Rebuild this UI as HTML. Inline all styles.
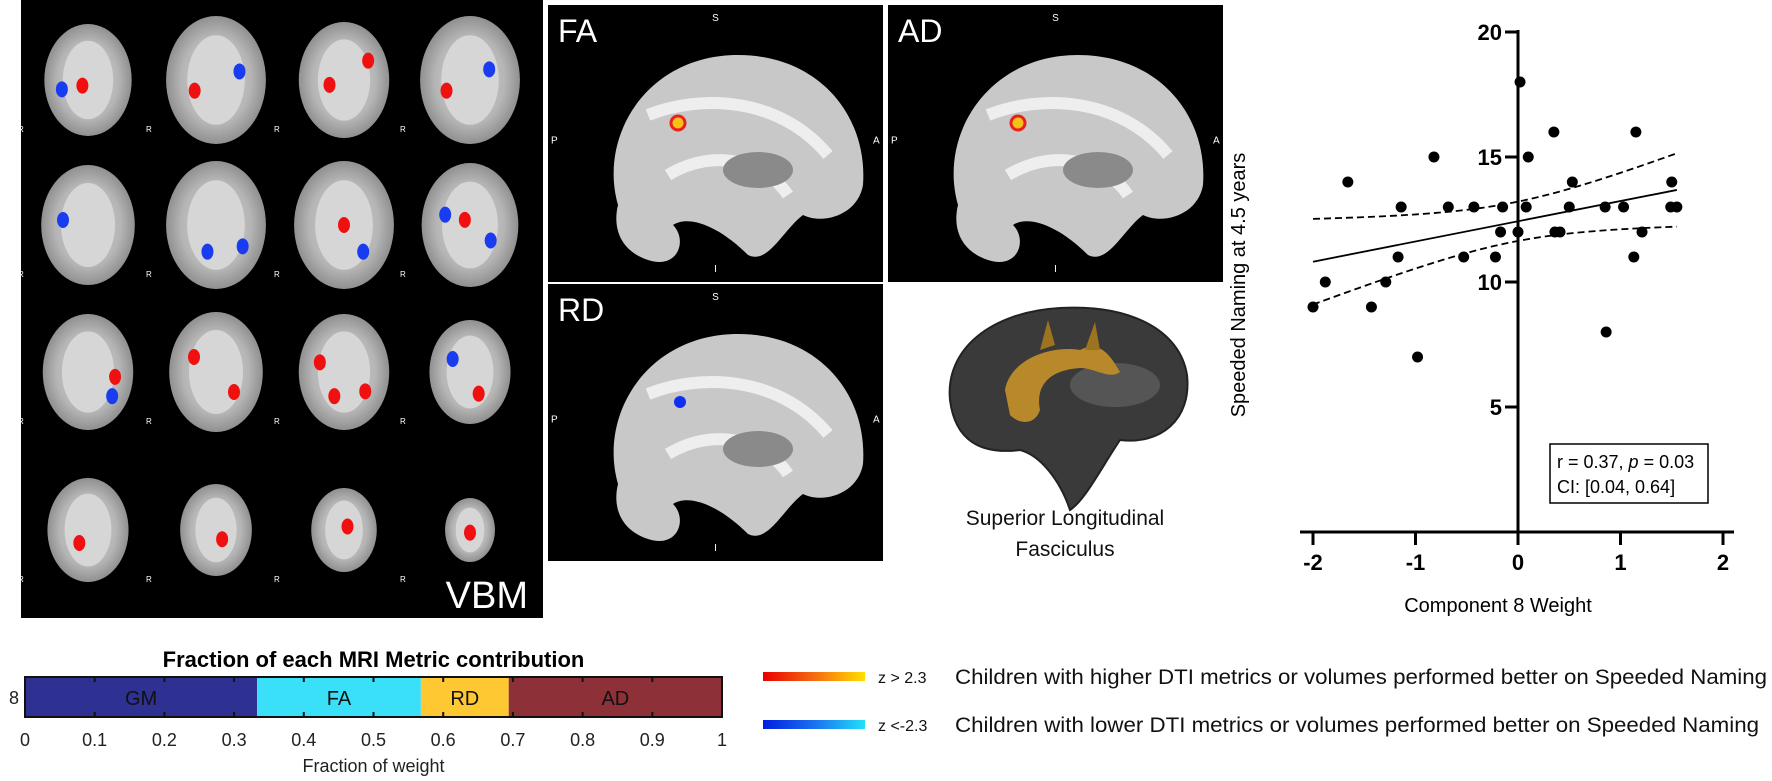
<!DOCTYPE html>
<html><head><meta charset="utf-8"><style>
html,body{margin:0;padding:0;background:#fff;}
svg{display:block;font-family:"Liberation Sans",Arial,sans-serif;}
</style></head><body>
<svg id="fig" width="1772" height="781" viewBox="0 0 1772 781" xmlns="http://www.w3.org/2000/svg">
<defs>
<linearGradient id="gPos" x1="0" x2="1"><stop offset="0" stop-color="#e80000"/><stop offset="0.5" stop-color="#f56a10"/><stop offset="1" stop-color="#ffe000"/></linearGradient>
<linearGradient id="gNeg" x1="0" x2="1"><stop offset="0" stop-color="#0020e0"/><stop offset="0.5" stop-color="#1a70f0"/><stop offset="1" stop-color="#20e0f8"/></linearGradient>
<radialGradient id="brainG" cx="0.5" cy="0.5" r="0.5"><stop offset="0" stop-color="#d4d4d4"/><stop offset="0.7" stop-color="#b5b5b5"/><stop offset="1" stop-color="#909090"/></radialGradient>
</defs>

<g>
<rect x="21" y="0" width="522" height="618" fill="#000"/>
<g id="vbmSlices"></g>
<text x="528" y="608" fill="#fff" font-size="38" text-anchor="end">VBM</text>
</g>

<g id="sag"></g>

<g>
<path d="M950,400 C945,350 990,312 1060,308 C1130,304 1180,330 1187,375 C1192,420 1160,445 1120,440 C1100,470 1085,500 1070,510 C1060,480 1040,455 1020,450 C980,455 955,440 950,400 Z" fill="#3a3a3a" stroke="#222" stroke-width="2"/>
<ellipse cx="1115" cy="385" rx="45" ry="22" fill="#555"/>
<path d="M1005,390 C1010,360 1050,345 1080,350 C1100,340 1110,355 1120,372 C1110,380 1095,368 1080,368 C1050,370 1035,385 1040,410 C1035,425 1020,425 1010,415 Z" fill="#b8892a"/>
<path d="M1040,350 L1048,320 L1055,345 Z M1085,350 L1095,322 L1100,350 Z" fill="#9c7420"/>
</g>
<text x="1065" y="525" font-size="21" text-anchor="middle" fill="#111">Superior Longitudinal</text>
<text x="1065" y="556" font-size="21" text-anchor="middle" fill="#111">Fasciculus</text>

<g id="scatter"></g>

<g id="barChart"></g>

<g>
<rect x="763" y="672" width="102" height="9" fill="url(#gPos)"/>
<text x="878" y="683" font-size="16" fill="#111">z &gt; 2.3</text>
<text x="955" y="684" font-size="21" fill="#111" textLength="812" lengthAdjust="spacingAndGlyphs">Children with higher DTI metrics or volumes performed better on Speeded Naming</text>
<rect x="763" y="720" width="102" height="9" fill="url(#gNeg)"/>
<text x="878" y="731" font-size="16" fill="#111">z &lt;-2.3</text>
<text x="955" y="732" font-size="21" fill="#111" textLength="804" lengthAdjust="spacingAndGlyphs">Children with lower DTI metrics or volumes performed better on Speeded Naming</text>
</g>
</svg>
<script>
const weights = [-2.0,-1.88,-1.66,-1.43,-1.29,-1.17,-1.14,-0.98,-0.82,-0.68,-0.53,-0.43,-0.22,-0.17,-0.15,0.0,0.02,0.08,0.10,0.35,1.15,0.53,1.50,0.50,0.85,1.03,1.49,1.55,0.36,0.41,1.21,1.13,0.86];
const naming  = [9,10,14,9,10,11,13,7,15,13,11,13,11,12,13,12,18,13,15,16,16,14,14,13,13,13,13,13,12,12,12,11,8];
const xTicks = [-2,-1,0,1,2];
const yTicks = [5,10,15,20];
const metrics = ["GM","FA","RD","AD"];
const fractions = [0.333,0.235,0.126,0.306];
const metricColors = ["#2e3192","#3ae0f8","#fdc832","#8e3037"];
const barTicks = [0,0.1,0.2,0.3,0.4,0.5,0.6,0.7,0.8,0.9,1];

const NS="http://www.w3.org/2000/svg";
function mk(tag,attrs,parent){const e=document.createElementNS(NS,tag);for(const k in attrs)e.setAttribute(k,attrs[k]);if(parent)parent.appendChild(e);return e;}

const vg=document.getElementById('vbmSlices');
const colsX=[88,216,344,470], rowsY=[80,225,372,530];
const sizes=[[56,64,58,64],[60,64,64,62],[58,60,58,52],[52,46,42,32]];
const blobs=[[["r",-6,6],["b",-28,10]],[["r",-20,10],["b",22,-8]],[["r",-15,5],["r",25,-20]],[["b",18,-10],["r",-22,10]],
[["b",-25,-5]],[["b",-8,25],["b",25,20]],[["r",0,0],["b",18,25]],[["r",-5,-5],["b",20,15],["b",-24,-10]],
[["r",28,5],["b",25,25]],[["r",-22,-15],["r",18,20]],[["r",-25,-10],["r",22,20],["r",-10,25]],[["r",10,25],["b",-20,-15]],
[["r",-10,15]],[["r",8,12]],[["r",5,-5]],[["r",0,5]]];
let bi=0;
for(let r=0;r<4;r++){for(let c=0;c<4;c++){
  const s=sizes[r][c];
  const g=mk('g',{},vg);
  
  
  mk('ellipse',{cx:colsX[c],cy:rowsY[r],rx:s*0.78,ry:s,fill:'url(#brainG)'},g);
  mk('ellipse',{cx:colsX[c],cy:rowsY[r],rx:s*0.45,ry:s*0.7,fill:'#d6d6d6'},g);
  blobs[bi].forEach(b=>mk('ellipse',{cx:colsX[c]+b[1]*s/60,cy:rowsY[r]+b[2]*s/60,rx:6,ry:8,fill:b[0]=='r'?'#f01010':'#1a3cf0'},g));
  bi++;
  mk('text',{x:colsX[c]-70,y:rowsY[r]+52,fill:'#fff','font-size':8},g).textContent='R';
}}

const sag=document.getElementById('sag');
const panels=[["FA",548,5,"fa"],["AD",888,5,"ad"],["RD",548,284,"rd"]];
panels.forEach(p=>{
  const [lab,x,y,key]=p;const w=335,h=277;
  const g=mk('g',{},sag);
  
  
  mk('rect',{x:x,y:y,width:w,height:h,fill:'#000'},g);
  const bx=x+60,by=y+50;
  mk('path',{d:`M${bx+10},${by+150} C${bx-10},${by+80} ${bx+40},${by} ${bx+130},${by} C${bx+210},${by} ${bx+260},${by+60} ${bx+255},${by+130} C${bx+250},${by+160} ${bx+215},${by+170} ${bx+195},${by+160} C${bx+175},${by+175} ${bx+160},${by+210} ${bx+140},${by+200} C${bx+110},${by+170} ${bx+80},${by+160} ${bx+65},${by+170} C${bx+80},${by+185} ${bx+70},${by+215} ${bx+40},${by+205} C${bx+10},${by+195} ${bx+5},${by+170} ${bx+10},${by+150} Z`,fill:'#c8c8c8'},g);
  mk('path',{d:`M${bx+40},${by+60} C${bx+90},${by+40} ${bx+170},${by+40} ${bx+220},${by+100} M${bx+60},${by+120} C${bx+110},${by+90} ${bx+160},${by+110} ${bx+180},${by+140}`,fill:'none',stroke:'#eee','stroke-width':12},g);
  mk('ellipse',{cx:bx+150,cy:by+115,rx:35,ry:18,fill:'#8a8a8a'},g);
  if(key!=='rd'){mk('circle',{cx:bx+70,cy:by+68,r:7,fill:'#f5c018',stroke:'#e82020','stroke-width':3},g);}
  else{mk('circle',{cx:bx+72,cy:by+68,r:6,fill:'#1030f0'},g);}
  mk('text',{x:x+10,y:y+37,fill:'#fff','font-size':32},g).textContent=lab;
  mk('text',{x:x+w/2,y:y+16,fill:'#fff','font-size':10,'text-anchor':'middle'},g).textContent='S';
  mk('text',{x:x+w/2,y:y+h-10,fill:'#fff','font-size':10,'text-anchor':'middle'},g).textContent='I';
  mk('text',{x:x+3,y:y+h/2,fill:'#fff','font-size':10},g).textContent='P';
  mk('text',{x:x+w-10,y:y+h/2,fill:'#fff','font-size':10},g).textContent='A';
});

const sc=document.getElementById('scatter');
const X=v=>1518+102.5*v, Y=v=>532-25*v;
const xAxis=mk('line',{x1:1300,y1:532,x2:1734,y2:532,stroke:'#000','stroke-width':3},sc);


const yAxis=mk('line',{x1:1518,y1:Y(20)-2,x2:1518,y2:534,stroke:'#000','stroke-width':3},sc);


xTicks.forEach(t=>{
  mk('line',{x1:X(t),y1:532,x2:X(t),y2:545,stroke:'#000','stroke-width':3},sc);
  const tx=mk('text',{x:X(t),y:570,'font-size':22,'font-weight':'bold','text-anchor':'middle'},sc);
  
  
  tx.textContent=t;
});
yTicks.forEach(t=>{
  mk('line',{x1:1505,y1:Y(t),x2:1518,y2:Y(t),stroke:'#000','stroke-width':3},sc);
  const tx=mk('text',{x:1502,y:Y(t)+8,'font-size':22,'font-weight':'bold','text-anchor':'end'},sc);
  
  
  tx.textContent=t;
});
const n=weights.length;
const mx=weights.reduce((a,b)=>a+b,0)/n, my=naming.reduce((a,b)=>a+b,0)/n;
let sxx=0,sxy=0;for(let i=0;i<n;i++){sxx+=(weights[i]-mx)**2;sxy+=(weights[i]-mx)*(naming[i]-my);}
const slope=sxy/sxx, icpt=my-slope*mx;
let sse=0;for(let i=0;i<n;i++){sse+=(naming[i]-(icpt+slope*weights[i]))**2;}
const se=Math.sqrt(sse/(n-2)), tval=2.04;
const xmin=Math.min(...weights), xmax=Math.max(...weights);
let up=[],lo=[];
for(let k=0;k<=40;k++){const xv=xmin+(xmax-xmin)*k/40;const yh=icpt+slope*xv;const d=tval*se*Math.sqrt(1/n+(xv-mx)**2/sxx);
 up.push(X(xv)+','+Y(yh+d));lo.push(X(xv)+','+Y(yh-d));}
const fit=mk('line',{x1:X(xmin),y1:Y(icpt+slope*xmin),x2:X(xmax),y2:Y(icpt+slope*xmax),stroke:'#000','stroke-width':1.8},sc);


const cu=mk('polyline',{points:up.join(' '),fill:'none',stroke:'#000','stroke-width':1.8,'stroke-dasharray':'7 4'},sc);


const cl=mk('polyline',{points:lo.join(' '),fill:'none',stroke:'#000','stroke-width':1.8,'stroke-dasharray':'7 4'},sc);


for(let i=0;i<n;i++){
  const c=mk('circle',{cx:X(weights[i]),cy:Y(naming[i]),r:5.5,fill:'#000'},sc);
  
  
}
const yl=mk('text',{x:0,y:0,'font-size':20,'text-anchor':'middle',transform:'translate(1245,285) rotate(-90)'},sc);


yl.textContent='Speeded Naming at 4.5 years';
const xl=mk('text',{x:1498,y:612,'font-size':20,'text-anchor':'middle'},sc);


xl.textContent='Component 8 Weight';
const box=mk('rect',{x:1550,y:444,width:158,height:59,fill:'#fff',stroke:'#000','stroke-width':1.5},sc);


const s1=mk('text',{x:1557,y:468,'font-size':18},sc);
s1.innerHTML='r = 0.37, <tspan font-style="italic">p</tspan> = 0.03';
const s2=mk('text',{x:1557,y:493,'font-size':18},sc);
s2.textContent='CI: [0.04, 0.64]';

const bc=document.getElementById('barChart');
const BX=v=>25+697*v;
const bt=mk('text',{x:BX(0.5),y:667,'font-size':22,'font-weight':'bold','text-anchor':'middle'},bc);


bt.textContent='Fraction of each MRI Metric contribution';
let acc=0;
metrics.forEach((m,i)=>{
  const r=mk('rect',{x:BX(acc),y:677,width:697*fractions[i],height:40,fill:metricColors[i]},bc);
  
  
  const t=mk('text',{x:BX(acc+fractions[i]/2),y:705,'font-size':20,'text-anchor':'middle',fill:'#111'},bc);
  t.textContent=m;
  acc+=fractions[i];
});
mk('rect',{x:BX(0),y:677,width:697,height:40,fill:'none',stroke:'#111','stroke-width':2},bc);
barTicks.forEach(t=>{
  mk('line',{x1:BX(t),y1:677,x2:BX(t),y2:682,stroke:'#111','stroke-width':2},bc);
  mk('line',{x1:BX(t),y1:712,x2:BX(t),y2:717,stroke:'#111','stroke-width':2},bc);
  const tl=mk('text',{x:BX(t),y:746,'font-size':18,'text-anchor':'middle',fill:'#222'},bc);
  
  
  tl.textContent=t;
});
mk('text',{x:14,y:704,'font-size':18,'text-anchor':'middle',fill:'#222'},bc).textContent='8';
const bxl=mk('text',{x:BX(0.5),y:772,'font-size':18,'text-anchor':'middle',fill:'#222'},bc);


bxl.textContent='Fraction of weight';
</script>
</body></html>
